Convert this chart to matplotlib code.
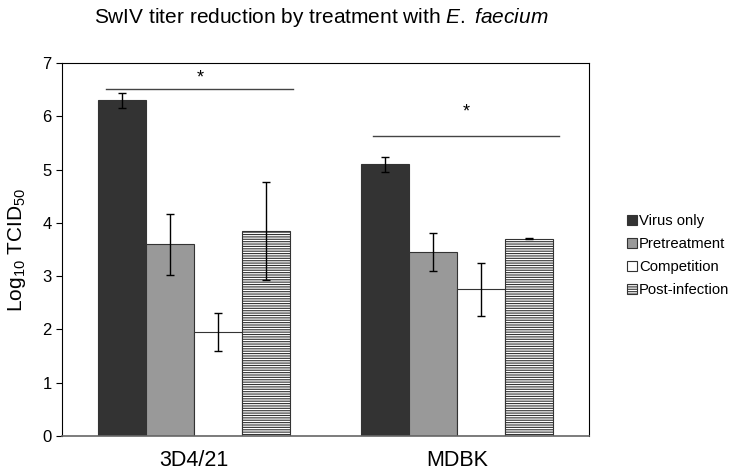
import numpy as np
import matplotlib.pyplot as plt

plt.rcParams['font.family'] = ['Liberation Sans', 'DejaVu Sans']
plt.rcParams['mathtext.fontset'] = 'custom'
plt.rcParams['mathtext.rm'] = 'Liberation Sans'
plt.rcParams['mathtext.it'] = 'Liberation Sans:italic'
plt.rcParams['hatch.linewidth'] = 0.8

# Data
cells = ['3D4/21', 'MDBK']
treatments = ['Virus only', 'Pretreatment', 'Competition', 'Post-infection']
means = [
    [6.30, 5.10],   # Virus only
    [3.60, 3.45],   # Pretreatment
    [1.95, 2.75],   # Competition
    [3.85, 3.70],   # Post-infection
]
errors = [
    [0.14, 0.14],
    [0.57, 0.36],
    [0.36, 0.50],
    [0.92, 0.01],
]
sig_levels = [6.52, 5.63]
sig_stars = [6.72, 6.08]

colors = ['#333333', '#999999', 'white', 'white']
hatches = [None, None, None, '-------']

fig = plt.figure(figsize=(7.31, 4.70), dpi=100)
ax = fig.add_axes([62 / 731, 34 / 470, 527 / 731, 373 / 470])

x = np.arange(len(cells))
width = 0.182
for i, name in enumerate(treatments):
    pos = x + (i - 1.5) * width
    ax.bar(pos, means[i], width, color=colors[i], edgecolor='#333333',
           linewidth=0.8, hatch=hatches[i], label=name, zorder=2)
    ax.errorbar(pos, means[i], yerr=errors[i], fmt='none', ecolor='black',
                elinewidth=1, capsize=3, capthick=1, zorder=3)

# significance lines
spans = [(-0.332, 0.378), (0.68, 1.386)]
for (x0, x1), y, ys in zip(spans, sig_levels, sig_stars):
    ax.plot([x0, x1], [y, y], color='#444444', lw=1)
    ax.text((x0 + x1) / 2, ys, '*', ha='center', va='center', fontsize=13)

ax.set_xlim(-0.5, 1.5)
ax.set_ylim(0, 7)
ax.set_yticks(range(8))
ax.set_xticks(x)
ax.set_xticklabels(cells, fontsize=15.5)
ax.tick_params(axis='x', length=0, pad=10)
ax.tick_params(axis='y', labelsize=12, length=4, direction='out')
ax.set_ylabel('Log$_{10}$ TCID$_{50}$', fontsize=15, labelpad=10)
for s in ['top', 'right', 'left']:
    ax.spines[s].set_color('black')
    ax.spines[s].set_linewidth(0.8)
ax.spines['bottom'].set_color('#666666')
ax.spines['bottom'].set_linewidth(1.2)

fig.text(0.44, 0.962, 'SwIV titer reduction by treatment with $\\it{E.\\ faecium}$',
         ha='center', va='center', fontsize=15)

fig.legend(*ax.get_legend_handles_labels(), loc='center left',
           bbox_to_anchor=(627 / 731, 0.456), frameon=False, borderpad=0,
           borderaxespad=0, fontsize=10.7, handlelength=0.65, handleheight=0.65,
           handletextpad=0.15, labelspacing=0.6)

fig.savefig('out.png', dpi=100)
